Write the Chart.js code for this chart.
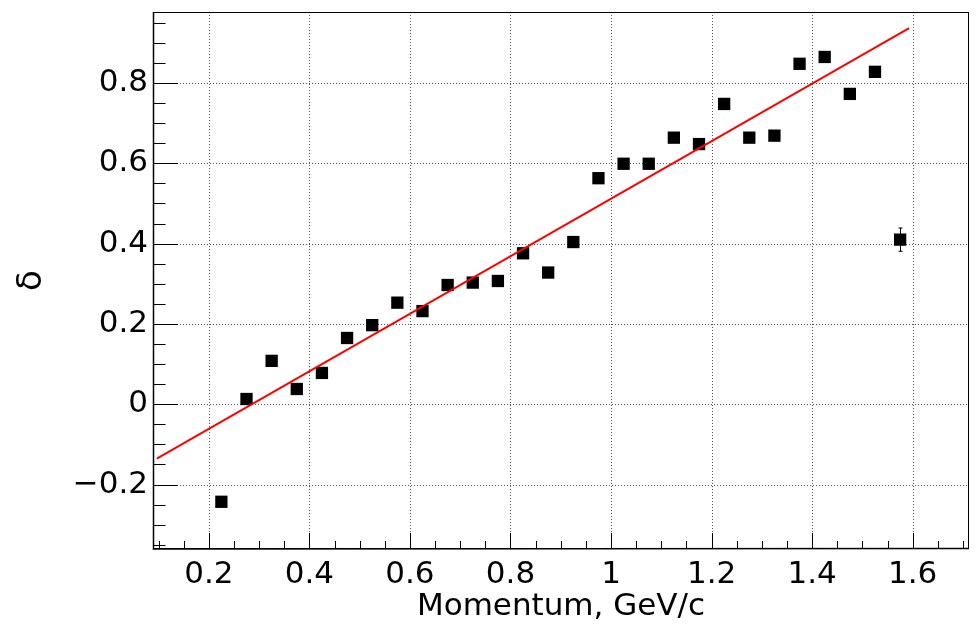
<!DOCTYPE html>
<html><head><meta charset="utf-8">
<script src="https://cdn.jsdelivr.net/npm/chart.js@4.4.0/dist/chart.umd.min.js"></script>
<style>html,body{margin:0;padding:0;background:#fff;} #wrap{width:980px;height:627px;}</style>
</head><body><div id="wrap"><canvas id="c" width="980" height="627"></canvas></div>
<script>
const momentum = [0.225,0.275,0.325,0.375,0.425,0.475,0.525,0.575,0.625,0.675,0.725,0.775,0.825,0.875,0.925,0.975,1.025,1.075,1.125,1.175,1.225,1.275,1.325,1.375,1.425,1.475,1.525,1.575];
const delta = [-0.243,0.013,0.108,0.038,0.078,0.165,0.197,0.253,0.232,0.297,0.303,0.307,0.376,0.328,0.404,0.563,0.599,0.599,0.664,0.648,0.748,0.664,0.669,0.848,0.865,0.773,0.828,0.410];
const deltaErr = [0.008,0.007,0.007,0.007,0.007,0.007,0.007,0.007,0.007,0.008,0.008,0.008,0.008,0.009,0.009,0.009,0.010,0.010,0.010,0.011,0.011,0.011,0.012,0.012,0.012,0.013,0.013,0.029];
const fitX = [0.0966, 1.593];
const fitY = [-0.1356, 0.937];
const xTicks = [0.2,0.4,0.6,0.8,1.0,1.2,1.4,1.6];
const yTicks = [-0.2,0,0.2,0.4,0.6,0.8];
const xRange = [0.089, 1.712];
const yRange = [-0.3606, 0.977];
const xTitle = 'Momentum, GeV/c';
const yTitle = 'δ';

const FONT = 'DejaVu Sans';
function fmt(v){
  const s = String(Number(Math.abs(v).toFixed(2)));
  return v < -1e-9 ? '\u2212' + s : s;
}

const rootFrame = {
  id: 'rootFrame',
  beforeDatasetsDraw(chart){
    const {ctx, chartArea: a, scales: {x, y}} = chart;
    ctx.save();
    // grid
    ctx.strokeStyle = '#555';
    ctx.lineWidth = 1;
    ctx.setLineDash([1, 2]);
    xTicks.forEach(v => {
      const px = Math.round(x.getPixelForValue(v)) + 0.5;
      ctx.beginPath(); ctx.moveTo(px, a.top); ctx.lineTo(px, a.bottom); ctx.stroke();
    });
    yTicks.forEach(v => {
      const py = Math.round(y.getPixelForValue(v)) + 0.5;
      ctx.beginPath(); ctx.moveTo(a.left, py); ctx.lineTo(a.right, py); ctx.stroke();
    });
    ctx.setLineDash([]);
    ctx.strokeStyle = '#000';
    // x ticks
    for (let k = Math.ceil(x.min * 20); k <= Math.floor(x.max * 20); k++) {
      const len = (k % 4 === 0) ? 16 : 8;
      const px = Math.round(x.getPixelForValue(k / 20)) + 0.5;
      ctx.beginPath(); ctx.moveTo(px, a.bottom); ctx.lineTo(px, a.bottom - len); ctx.stroke();
    }
    // y ticks
    for (let k = Math.ceil(y.min * 20); k <= Math.floor(y.max * 20); k++) {
      const len = (k % 4 === 0) ? 25 : 12.5;
      const py = Math.round(y.getPixelForValue(k / 20)) + 0.5;
      ctx.beginPath(); ctx.moveTo(a.left, py); ctx.lineTo(a.left + len, py); ctx.stroke();
    }
    // frame
    ctx.lineWidth = 1;
    ctx.strokeRect(a.left + 0.5, a.top + 0.5, a.right - a.left - 1, a.bottom - a.top - 1);
    ctx.lineWidth = 1.5;
    ctx.beginPath(); ctx.moveTo(a.left + 0.5, a.top); ctx.lineTo(a.left + 0.5, a.bottom); ctx.lineTo(a.right, a.bottom - 0.5); ctx.stroke();
    // error bars
    ctx.lineWidth = 1;
    momentum.forEach((m, i) => {
      const px = Math.round(x.getPixelForValue(m)) + 0.5;
      const y1 = y.getPixelForValue(delta[i] + deltaErr[i]);
      const y2 = y.getPixelForValue(delta[i] - deltaErr[i]);
      ctx.beginPath(); ctx.moveTo(px, y1); ctx.lineTo(px, y2);
      ctx.moveTo(px - 2, y1); ctx.lineTo(px + 2, y1);
      ctx.moveTo(px - 2, y2); ctx.lineTo(px + 2, y2);
      ctx.stroke();
    });
    ctx.restore();
  }
};

new Chart(document.getElementById('c'), {
  type: 'scatter',
  data: {
    datasets: [
      {
        label: 'fit',
        data: fitX.map((v, i) => ({x: v, y: fitY[i]})),
        showLine: true,
        borderColor: '#ff0000',
        borderWidth: 2,
        pointRadius: 0,
        fill: false,
        order: 0
      },
      {
        label: 'data',
        data: momentum.map((v, i) => ({x: v, y: delta[i]})),
        pointStyle: 'rect',
        pointRadius: 8.7,
        backgroundColor: '#000',
        borderColor: '#000',
        borderWidth: 0,
        order: 1
      }
    ]
  },
  options: {
    responsive: false,
    animation: false,
    devicePixelRatio: 1,
    events: [],
    layout: {padding: {top: 12, right: 11, left: 0, bottom: 0}},
    plugins: {legend: {display: false}, tooltip: {enabled: false}},
    scales: {
      x: {
        type: 'linear',
        min: xRange[0], max: xRange[1],
        afterBuildTicks: s => { s.ticks = xTicks.map(v => ({value: v})); },
        afterFit: s => { s.height = 78; s.paddingLeft = 0; s.paddingRight = 0; },
        grid: {display: false, drawTicks: false, tickLength: 0},
        border: {display: false},
        ticks: {padding: 7, color: '#000', font: {family: FONT, size: 31}, callback: v => fmt(v), maxRotation: 0, autoSkip: false},
        title: {display: true, text: xTitle, color: '#000', font: {family: FONT, size: 31}, padding: {top: 0, bottom: 1}}
      },
      y: {
        type: 'linear',
        min: yRange[0], max: yRange[1],
        afterBuildTicks: s => { s.ticks = yTicks.map(v => ({value: v})); },
        afterFit: s => { s.width = 153; s.paddingTop = 0; s.paddingBottom = 0; },
        grid: {display: false, drawTicks: false, tickLength: 0},
        border: {display: false},
        ticks: {padding: 5, color: '#000', font: {family: FONT, size: 31}, callback: v => fmt(v), autoSkip: false},
        title: {display: true, text: yTitle, color: '#000', font: {family: FONT, size: 34}, padding: {top: 12, bottom: 0}}
      }
    }
  },
  plugins: [rootFrame]
});
</script>
</body></html>
